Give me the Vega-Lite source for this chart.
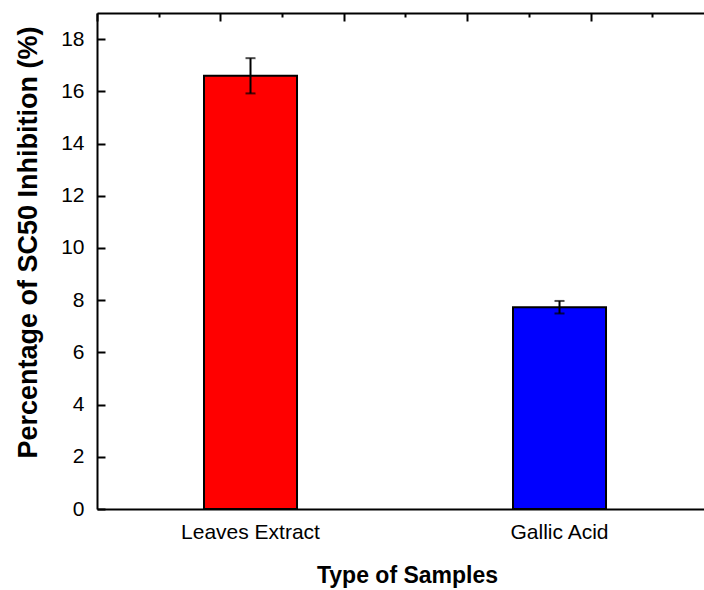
{
  "$schema": "https://vega.github.io/schema/vega-lite/v6.json",
  "width": 607,
  "height": 496,
  "autosize": {"type": "none"},
  "padding": {"left": 97, "top": 13, "right": 0, "bottom": 81},
  "background": "white",
  "config": {
    "view": {"stroke": null},
    "font": "Liberation Sans",
    "axis": {
      "domainColor": "black",
      "domainWidth": 2,
      "tickColor": "black",
      "tickWidth": 2,
      "labelColor": "black",
      "labelFont": "Liberation Sans",
      "titleFont": "Liberation Sans",
      "titleColor": "black",
      "grid": false
    }
  },
  "data": {
    "values": [
      {"sample": "Leaves Extract", "value": 16.6, "lo": 15.92, "hi": 17.27},
      {"sample": "Gallic Acid", "value": 7.73, "lo": 7.49, "hi": 7.97}
    ]
  },
  "layer": [
    {
      "layer": [
        {
          "mark": {"type": "bar", "stroke": "black", "strokeWidth": 2},
          "encoding": {
            "x": {
              "field": "sample",
              "type": "nominal",
              "sort": ["Leaves Extract", "Gallic Acid"],
              "scale": {"paddingInner": 0.699, "paddingOuter": 0.3317, "align": 0.522},
              "axis": {
                "orient": "bottom",
                "title": "Type of Samples",
                "titleFontSize": 23,
                "titleFontWeight": "bold",
                "titlePadding": 22,
                "titleX": 310,
                "labelFontSize": 21,
                "labelAngle": 0,
                "tickSize": -8,
                "labelPadding": 20
              }
            },
            "y": {
              "field": "value",
              "type": "quantitative",
              "title": "Percentage of SC50 Inhibition (%)",
              "scale": {"domain": [0, 19], "nice": false},
              "axis": {
                "titleFontSize": 27,
                "titleFontWeight": "bold",
                "titlePadding": 18,
                "titleY": 229,
                "labelFontSize": 21,
                "values": [0,1,2,3,4,5,6,7,8,9,10,11,12,13,14,15,16,17,18,19],
                "labelExpr": "datum.value % 2 == 0 ? datum.label : ''",
                "tickSize": {"condition": {"test": "datum.value % 2 == 1", "value": -4}, "value": -8},
                "labelPadding": 21
              }
            },
            "color": {
              "field": "sample",
              "type": "nominal",
              "scale": {"domain": ["Leaves Extract", "Gallic Acid"], "range": ["#FF0000", "#0000FF"]},
              "legend": null
            }
          }
        },
        {
          "mark": {
            "type": "errorbar",
            "ticks": {"size": 10, "thickness": 2, "color": "black"},
            "rule": {"strokeWidth": 2, "color": "black"}
          },
          "encoding": {
            "x": {"field": "sample", "type": "nominal", "sort": ["Leaves Extract", "Gallic Acid"]},
            "y": {"field": "lo", "type": "quantitative", "title": "Percentage of SC50 Inhibition (%)"},
            "y2": {"field": "hi"}
          }
        }
      ]
    },
    {
      "mark": {"type": "rule", "opacity": 0},
      "encoding": {
        "x": {
          "datum": 0,
          "type": "quantitative",
          "scale": {"domain": [0, 9.838], "nice": false, "zero": false},
          "axis": {
            "orient": "top",
            "title": null,
            "labels": false,
            "values": [0,1,2,3,4,5,6,7,8,9],
            "tickSize": {"condition": {"test": "datum.value % 2 == 1", "value": -4}, "value": -8}
          }
        }
      }
    }
  ],
  "resolve": {"scale": {"x": "independent"}, "axis": {"x": "independent"}}
}
